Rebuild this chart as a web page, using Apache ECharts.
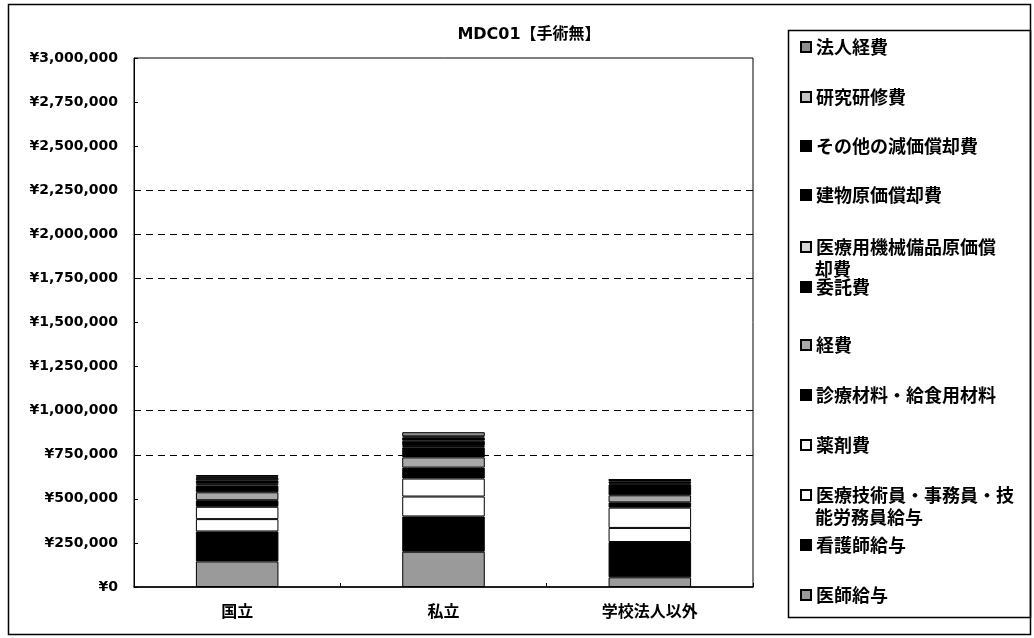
<!DOCTYPE html>
<html><head><meta charset="utf-8">
<script src="https://cdn.jsdelivr.net/npm/echarts@6/dist/echarts.min.js"></script>
<style>html,body{margin:0;padding:0;background:#fff}#c{width:1034px;height:638px}</style>
</head><body><div id="c"></div>
<script>
const categories = ['国立', '私立', '学校法人以外'];
const seriesNames = ['医師給与', '看護師給与', '医療技術員・事務員・技能労務員給与', '薬剤費', '診療材料・給食用材料', '経費', '委託費', '医療用機械備品原価償却費', '建物原価償却費', 'その他の減価償却費', '研究研修費', '法人経費'];
const legendLine1 = ['医師給与', '看護師給与', '医療技術員・事務員・技', '薬剤費', '診療材料・給食用材料', '経費', '委託費', '医療用機械備品原価償', '建物原価償却費', 'その他の減価償却費', '研究研修費', '法人経費'];
const legendLine2 = ['', '', '能労務員給与', '', '', '', '', '却費', '', '', '', ''];
const v_doctor    = [145000, 200000, 55000];
const v_nurse     = [170000, 200000, 200000];
const v_staff     = [70000, 113000, 80000];
const v_drug      = [70000, 102000, 115000];
const v_material  = [37000, 62000, 30000];
const v_expense   = [45000, 58000, 40000];
const v_outsource = [38000, 57000, 62000];
const v_equip     = [10000, 8000, 5000];
const v_building  = [20000, 30000, 12000];
const v_otherdep  = [15000, 18000, 6000];
const v_research  = [5000, 6000, 2000];
const v_corp      = [10000, 24000, 3000];
const allValues = [v_doctor, v_nurse, v_staff, v_drug, v_material, v_expense, v_outsource, v_equip, v_building, v_otherdep, v_research, v_corp];
const yMin = 0, yMax = 3000000, yStep = 250000;
const gridValues = [750000, 1000000, 1750000, 2000000, 2250000];

const colors = ['#9a9a9a', '#000000', '#ffffff', '#ffffff', '#000000', '#a8a8a8', '#000000', '#d4d4d4', '#000000', '#000000', '#c4c4c4', '#8e8e8e'];
// legend icon centre y for each series (layout)
const legendCenters = [595, 545, 495, 445, 395, 345, 287, 247, 195, 146, 97, 47];

const FONT = '"DejaVu Sans", "Noto Sans CJK JP", sans-serif';
const CJK = '"Noto Sans CJK JP", "DejaVu Sans", sans-serif';

const series = seriesNames.map((n, i) => ({
  name: n, type: 'bar', stack: 'total', barWidth: '40%',
  data: allValues[i],
  itemStyle: { color: colors[i], borderColor: '#000', borderWidth: 1 },
  emphasis: { disabled: true }
}));

const LH = 22;
const LEG_X = 800;
const legends = seriesNames.map((n, i) => ({
  data: [n], orient: 'vertical', left: LEG_X, padding: 0,
  top: legendCenters[i] - LH / 2,
  icon: 'rect', itemWidth: 10, itemHeight: 10, itemGap: 0,
  selectedMode: false,
  formatter: () => legendLine1[i],
  textStyle: { fontFamily: CJK, fontSize: 18, fontWeight: 'bold', color: '#000', lineHeight: LH }
}));

const contTexts = [];
legendLine2.forEach((t, i) => {
  if (t) contTexts.push({ type: 'text', left: LEG_X + 15, top: legendCenters[i] + 13,
    style: { text: t, font: 'bold 18px ' + CJK, fill: '#000' } });
});

const nTicks = Math.round((yMax - yMin) / yStep) + 1;
const splitColors = [];
for (let k = 0; k < nTicks; k++) {
  const val = yMin + k * yStep;
  splitColors.push(gridValues.indexOf(val) >= 0 ? '#000' : 'rgba(0,0,0,0)');
}

const option = {
  animation: false,
  backgroundColor: '#fff',
  title: { text: 'MDC01【手術無】', left: 524, top: 22, textAlign: 'center',
    textStyle: { fontFamily: FONT, fontSize: 16, fontWeight: 'bold', color: '#000' } },
  grid: { left: 134, right: 281, top: 58, bottom: 51, show: true, borderColor: '#000', borderWidth: 1, backgroundColor: '#fff' },
  legend: legends,
  xAxis: { type: 'category', data: categories,
    axisLine: { lineStyle: { color: '#000', width: 1.5 } },
    axisTick: { show: true, inside: true, length: 4, lineStyle: { color: '#000' } },
    axisLabel: { margin: 16, fontFamily: CJK, fontSize: 16, fontWeight: 'bold', color: '#000' } },
  yAxis: { type: 'value', min: yMin, max: yMax, interval: yStep,
    axisLine: { show: true, lineStyle: { color: '#000', width: 1 } },
    axisTick: { show: true, inside: true, length: 4, lineStyle: { color: '#000' } },
    axisLabel: { margin: 16, fontFamily: FONT, fontSize: 14, fontWeight: 'bold', color: '#000',
      formatter: v => '¥' + v.toLocaleString('en-US') },
    splitLine: { show: true, lineStyle: { color: splitColors, type: [7, 5], width: 1 } } },
  graphic: [
    { type: 'rect', shape: { x: 8.5, y: 4.5, width: 1022, height: 630 }, style: { fill: 'none', stroke: '#000', lineWidth: 1.5 }, z: -1 },
    { type: 'rect', shape: { x: 788.5, y: 30.5, width: 242, height: 587 }, style: { fill: 'none', stroke: '#000', lineWidth: 1.5 } }
  ].concat(contTexts),
  series: series
};
const chart = echarts.init(document.getElementById('c'), null, { renderer: 'canvas' });
chart.setOption(option);
</script></body></html>
